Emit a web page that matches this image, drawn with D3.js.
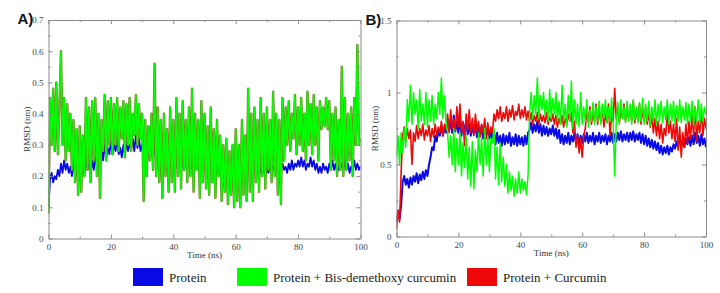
<!DOCTYPE html>
<html lang="en">
  <head>
    <meta charset="utf-8">
    <title>RMSD</title>
    <script src="https://d3js.org/d3.v7.js"></script>
    <style>
      body { margin: 0; background: #fff; }
    </style>
  </head>

  <body>

  <script>

// RMSD values, one every 0.5 ns (0 .. 100 ns)

  var proteinA = [
    0.10, 0.19, 0.21, 0.18, 0.20, 0.19, 0.22, 0.20, 0.24, 0.21,
    0.25, 0.22, 0.24, 0.21, 0.23, 0.20, 0.24, 0.21, 0.22, 0.19,
    0.23, 0.20, 0.25, 0.21, 0.26, 0.22, 0.24, 0.21, 0.25, 0.22,
    0.26, 0.23, 0.28, 0.24, 0.29, 0.25, 0.30, 0.26, 0.29, 0.27,
    0.31, 0.27, 0.30, 0.28, 0.32, 0.27, 0.29, 0.26, 0.30, 0.27,
    0.31, 0.28, 0.30, 0.29, 0.32, 0.28, 0.33, 0.29, 0.32, 0.28,
    0.30, 0.27, 0.29, 0.26, 0.30, 0.27, 0.29, 0.26, 0.31, 0.25,
    0.28, 0.25, 0.27, 0.24, 0.26, 0.23, 0.27, 0.24, 0.26, 0.23,
    0.26, 0.23, 0.25, 0.22, 0.25, 0.23, 0.24, 0.22, 0.25, 0.23,
    0.25, 0.22, 0.24, 0.22, 0.25, 0.23, 0.24, 0.22, 0.25, 0.22,
    0.24, 0.22, 0.25, 0.23, 0.24, 0.22, 0.25, 0.22, 0.24, 0.21,
    0.24, 0.21, 0.23, 0.21, 0.24, 0.22, 0.23, 0.21, 0.23, 0.20,
    0.23, 0.20, 0.22, 0.20, 0.23, 0.21, 0.22, 0.20, 0.23, 0.21,
    0.22, 0.20, 0.23, 0.21, 0.22, 0.20, 0.23, 0.21, 0.22, 0.20,
    0.23, 0.21, 0.24, 0.21, 0.23, 0.22, 0.24, 0.21, 0.23, 0.22,
    0.24, 0.22, 0.23, 0.21, 0.24, 0.22, 0.25, 0.22, 0.24, 0.23,
    0.25, 0.23, 0.26, 0.23, 0.25, 0.22, 0.24, 0.23, 0.26, 0.23,
    0.25, 0.22, 0.24, 0.21, 0.23, 0.21, 0.24, 0.22, 0.23, 0.21,
    0.24, 0.22, 0.25, 0.22, 0.24, 0.21, 0.23, 0.22, 0.24, 0.22,
    0.25, 0.22, 0.24, 0.21, 0.23, 0.22, 0.25, 0.22, 0.24, 0.22,
    0.23];

  var bisA = [
    0.08, 0.45, 0.30, 0.48, 0.28, 0.50, 0.27, 0.42, 0.60, 0.30,
    0.45, 0.25, 0.43, 0.28, 0.40, 0.22, 0.38, 0.18, 0.35, 0.14,
    0.36, 0.15, 0.33, 0.20, 0.45, 0.22, 0.42, 0.18, 0.44, 0.25,
    0.45, 0.20, 0.40, 0.13, 0.38, 0.28, 0.46, 0.25, 0.44, 0.30,
    0.45, 0.27, 0.43, 0.30, 0.45, 0.28, 0.42, 0.32, 0.44, 0.26,
    0.43, 0.30, 0.45, 0.28, 0.40, 0.33, 0.46, 0.30, 0.43, 0.32,
    0.40, 0.12, 0.38, 0.20, 0.36, 0.25, 0.40, 0.22, 0.56, 0.20,
    0.42, 0.18, 0.38, 0.13, 0.40, 0.20, 0.35, 0.15, 0.42, 0.18,
    0.38, 0.15, 0.45, 0.20, 0.40, 0.16, 0.44, 0.22, 0.38, 0.18,
    0.42, 0.20, 0.48, 0.15, 0.40, 0.22, 0.38, 0.13, 0.44, 0.18,
    0.40, 0.16, 0.36, 0.14, 0.42, 0.18, 0.35, 0.13, 0.38, 0.20,
    0.33, 0.12, 0.30, 0.15, 0.32, 0.11, 0.28, 0.14, 0.30, 0.10,
    0.35, 0.12, 0.30, 0.10, 0.38, 0.14, 0.33, 0.12, 0.48, 0.15,
    0.40, 0.12, 0.42, 0.18, 0.38, 0.15, 0.45, 0.20, 0.40, 0.16,
    0.42, 0.22, 0.38, 0.18, 0.47, 0.20, 0.40, 0.14, 0.38, 0.11,
    0.45, 0.25, 0.42, 0.30, 0.44, 0.28, 0.40, 0.32, 0.46, 0.27,
    0.42, 0.30, 0.45, 0.28, 0.40, 0.25, 0.47, 0.30, 0.43, 0.27,
    0.46, 0.30, 0.42, 0.25, 0.44, 0.35, 0.42, 0.36, 0.45, 0.35,
    0.44, 0.22, 0.40, 0.25, 0.42, 0.20, 0.38, 0.22, 0.55, 0.20,
    0.45, 0.22, 0.40, 0.25, 0.42, 0.20, 0.45, 0.30, 0.62, 0.30,
    0.32];

  var proteinB = [
    0.10, 0.18, 0.12, 0.22, 0.38, 0.42, 0.36, 0.40, 0.34, 0.41,
    0.36, 0.42, 0.38, 0.44, 0.37, 0.43, 0.39, 0.45, 0.40, 0.46,
    0.42, 0.50, 0.55, 0.62, 0.60, 0.70, 0.66, 0.74, 0.70, 0.77,
    0.70, 0.76, 0.72, 0.82, 0.74, 0.80, 0.72, 0.84, 0.73, 0.80,
    0.72, 0.82, 0.70, 0.79, 0.72, 0.80, 0.71, 0.78, 0.70, 0.77,
    0.71, 0.78, 0.69, 0.76, 0.70, 0.77, 0.68, 0.75, 0.69, 0.76,
    0.68, 0.74, 0.66, 0.73, 0.64, 0.72, 0.65, 0.70, 0.63, 0.71,
    0.64, 0.70, 0.65, 0.72, 0.63, 0.69, 0.64, 0.71, 0.63, 0.70,
    0.64, 0.69, 0.63, 0.70, 0.64, 0.72, 0.74, 0.79, 0.72, 0.78,
    0.73, 0.80, 0.72, 0.78, 0.70, 0.77, 0.71, 0.76, 0.70, 0.75,
    0.71, 0.77, 0.70, 0.75, 0.68, 0.74, 0.65, 0.71, 0.64, 0.70,
    0.65, 0.72, 0.64, 0.70, 0.66, 0.72, 0.65, 0.71, 0.64, 0.70,
    0.65, 0.71, 0.66, 0.72, 0.65, 0.70, 0.66, 0.72, 0.64, 0.70,
    0.66, 0.72, 0.65, 0.70, 0.66, 0.71, 0.64, 0.70, 0.66, 0.72,
    0.65, 0.71, 0.66, 0.72, 0.67, 0.73, 0.66, 0.71, 0.67, 0.72,
    0.66, 0.72, 0.67, 0.73, 0.66, 0.71, 0.67, 0.72, 0.65, 0.71,
    0.64, 0.70, 0.63, 0.68, 0.62, 0.67, 0.61, 0.66, 0.60, 0.65,
    0.58, 0.63, 0.57, 0.62, 0.58, 0.63, 0.57, 0.62, 0.59, 0.64,
    0.61, 0.66, 0.62, 0.68, 0.63, 0.67, 0.62, 0.68, 0.64, 0.69,
    0.63, 0.70, 0.64, 0.72, 0.65, 0.70, 0.63, 0.71, 0.64, 0.68,
    0.62];

  var bisB = [
    0.55, 0.70, 0.50, 0.72, 0.58, 0.75, 0.62, 0.95, 0.80, 1.05,
    0.78, 1.00, 0.85, 0.95, 0.75, 1.02, 0.80, 0.92, 0.78, 1.00,
    0.76, 0.95, 0.80, 0.98, 0.78, 0.92, 0.82, 1.00, 0.85, 1.10,
    0.82, 0.98, 0.80, 0.72, 0.55, 0.70, 0.50, 0.75, 0.45, 0.68,
    0.50, 0.72, 0.42, 0.65, 0.48, 0.70, 0.40, 0.62, 0.35, 0.66,
    0.33, 0.60, 0.45, 0.72, 0.50, 0.68, 0.42, 0.75, 0.50, 0.70,
    0.45, 0.68, 0.65, 0.75, 0.40, 0.62, 0.36, 0.65, 0.38, 0.55,
    0.35, 0.50, 0.30, 0.45, 0.32, 0.42, 0.28, 0.40, 0.30, 0.45,
    0.30, 0.40, 0.32, 0.38, 0.29, 0.42, 0.85, 1.00, 0.82, 0.98,
    0.85, 1.10, 0.82, 0.98, 0.88, 1.00, 0.84, 0.95, 0.80, 1.02,
    0.82, 0.96, 0.85, 1.00, 0.80, 0.94, 0.78, 1.05, 0.80, 0.92,
    0.76, 0.98, 0.80, 1.08, 0.75, 0.95, 0.78, 0.92, 0.76, 1.00,
    0.78, 0.90, 0.80, 0.95, 0.76, 0.88, 0.80, 0.93, 0.78, 0.90,
    0.80, 0.94, 0.78, 0.92, 0.82, 0.95, 0.79, 0.90, 0.80, 0.96,
    0.78, 0.42, 0.80, 0.93, 0.78, 0.95, 0.82, 0.90, 0.79, 0.94,
    0.80, 0.92, 0.78, 0.95, 0.81, 0.90, 0.79, 0.93, 0.80, 0.96,
    0.78, 0.92, 0.80, 0.94, 0.77, 0.90, 0.80, 0.95, 0.78, 0.92,
    0.80, 0.94, 0.79, 0.90, 0.81, 0.95, 0.78, 0.92, 0.80, 0.94,
    0.78, 0.91, 0.80, 0.95, 0.79, 0.90, 0.81, 0.93, 0.78, 0.92,
    0.80, 0.94, 0.77, 0.90, 0.80, 0.95, 0.78, 0.92, 0.80, 0.90,
    0.85];

  var curB = [
    0.05, 0.18, 0.10, 0.45, 0.70, 0.76, 0.66, 0.75, 0.68, 0.74,
    0.50, 0.72, 0.66, 0.77, 0.68, 0.75, 0.70, 0.78, 0.67, 0.74,
    0.70, 0.77, 0.66, 0.75, 0.69, 0.78, 0.70, 0.76, 0.72, 0.80,
    0.70, 0.78, 0.74, 0.85, 0.72, 0.88, 0.75, 0.82, 0.73, 0.90,
    0.76, 0.92, 0.72, 0.80, 0.63, 0.85, 0.74, 0.88, 0.72, 0.82,
    0.70, 0.85, 0.73, 0.80, 0.69, 0.78, 0.72, 0.82, 0.68, 0.79,
    0.70, 0.76, 0.72, 0.85, 0.80, 0.88, 0.82, 0.90, 0.80, 0.86,
    0.82, 0.90, 0.80, 0.88, 0.83, 0.91, 0.81, 0.87, 0.84, 0.92,
    0.82, 0.88, 0.83, 0.90, 0.81, 0.87, 0.80, 0.86, 0.78, 0.84,
    0.80, 0.86, 0.78, 0.85, 0.80, 0.84, 0.79, 0.86, 0.78, 0.83,
    0.80, 0.85, 0.78, 0.84, 0.76, 0.82, 0.78, 0.84, 0.76, 0.82,
    0.78, 0.85, 0.80, 0.86, 0.72, 0.80, 0.62, 0.70, 0.58, 0.68,
    0.55, 0.70, 0.75, 0.88, 0.80, 0.90, 0.78, 0.86, 0.80, 0.92,
    0.78, 0.88, 0.80, 0.90, 0.76, 0.85, 0.79, 0.92, 0.70, 0.86,
    0.80, 1.03, 0.82, 0.90, 0.79, 0.88, 0.82, 0.92, 0.80, 0.89,
    0.82, 0.90, 0.80, 0.94, 0.79, 0.88, 0.81, 0.92, 0.78, 0.88,
    0.80, 0.90, 0.78, 0.86, 0.76, 0.84, 0.72, 0.82, 0.70, 0.80,
    0.68, 0.78, 0.65, 0.75, 0.70, 0.86, 0.72, 0.80, 0.68, 0.78,
    0.66, 0.82, 0.60, 0.76, 0.55, 0.72, 0.62, 0.78, 0.65, 0.80,
    0.68, 0.85, 0.70, 0.90, 0.66, 0.80, 0.72, 0.88, 0.70, 0.82,
    0.75];

  var xTicks = [0, 20, 40, 60, 80, 100];
  var yTicksA = [0, 0.1, 0.2, 0.3, 0.4, 0.5, 0.6, 0.7];
  var yTicksB = [0, 0.5, 1, 1.5];
  var legendNames = ["Protein", "Protein + Bis-demethoxy curcumin", "Protein + Curcumin"];
  var legendColors = ["#0a0ae6", "#00ff00", "#ee0808"];

  var serif = "'Liberation Serif', 'Times New Roman', 'DejaVu Serif', serif";
  var time = proteinA.map((d, i) => i * 0.5);

  var w = 720;
  var h = 293;

  var svg = d3.select("body")
    .append("svg")
      .attr("width", w)
      .attr("height", h);

  function panel(id, box, yMax, yTicks, yMinor, yFmt, series) {
    var x = d3.scaleLinear().domain([0, 100]).range([box.left, box.right]);
    var y = d3.scaleLinear().domain([0, yMax]).range([box.bottom, box.top]);
    var g = svg.append("g");

    g.append("clipPath").attr("id", "clip" + id)
      .append("rect")
        .attr("x", box.left).attr("y", box.top)
        .attr("width", box.right - box.left).attr("height", box.bottom - box.top);

    var line = d3.line().x((d, i) => x(time[i])).y(d => y(d));
    var lines = g.append("g").attr("clip-path", "url(#clip" + id + ")");
    series.forEach(s => {
      lines.append("path")
        .attr("d", line(s.values))
        .attr("fill", "none")
        .attr("stroke", s.color)
        .attr("stroke-width", s.width)
        .attr("stroke-linejoin", "round");
    });

    // frame with inward ticks on all four sides
    var xMinor = d3.range(10, 100, 20);
    var axes = [
      d3.axisBottom(x).tickValues(xTicks).tickFormat(d3.format("d")),
      d3.axisTop(x).tickValues(xTicks).tickFormat(""),
      d3.axisLeft(y).tickValues(yTicks).tickFormat(yFmt),
      d3.axisRight(y).tickValues(yTicks).tickFormat("")
    ];
    var minors = [
      d3.axisBottom(x).tickValues(xMinor).tickFormat(""),
      d3.axisTop(x).tickValues(xMinor).tickFormat(""),
      d3.axisLeft(y).tickValues(yMinor).tickFormat(""),
      d3.axisRight(y).tickValues(yMinor).tickFormat("")
    ];
    var pos = [
      "translate(0," + box.bottom + ")", "translate(0," + box.top + ")",
      "translate(" + box.left + ",0)", "translate(" + box.right + ",0)"
    ];
    axes.forEach((a, i) => {
      var ga = g.append("g").attr("transform", pos[i])
        .call(a.tickSizeInner(-4).tickSizeOuter(0).tickPadding(5));
      ga.attr("font-family", serif);
      ga.select(".domain").attr("stroke", "#8a8a8a");
      ga.selectAll(".tick line").attr("stroke", "#8a8a8a");
      ga.selectAll("text").attr("font-size", 9).attr("fill", "#444");
      g.append("g").attr("transform", pos[i])
        .call(minors[i].tickSizeInner(-2).tickSizeOuter(0))
        .call(s => s.select(".domain").remove())
        .selectAll(".tick line").attr("stroke", "#8a8a8a");
    });

    g.append("text")
      .attr("x", (box.left + box.right) / 2)
      .attr("y", box.bottom + 19)
      .attr("text-anchor", "middle")
      .attr("font-family", serif)
      .attr("font-size", 9)
      .attr("fill", "#333")
      .text("Time (ns)");

    g.append("text")
      .attr("transform", "translate(" + (box.left - 19) + "," + ((box.top + box.bottom) / 2) + ") rotate(-90)")
      .attr("text-anchor", "middle")
      .attr("font-family", serif)
      .attr("font-size", 9)
      .attr("fill", "#333")
      .text("RMSD (nm)");

    g.append("text")
      .attr("x", box.left - 31)
      .attr("y", box.top + 4)
      .attr("font-size", 15)
      .attr("font-weight", "bold")
      .attr("font-family", "'Liberation Sans', Arial, sans-serif")
      .attr("fill", "#111")
      .text(id + ")");
  }

  panel("A", {left: 48.5, right: 360.5, top: 20, bottom: 238.5}, 0.7, yTicksA,
    d3.range(0.05, 0.7, 0.1), d => d === 0 ? "0" : d3.format(".1f")(d),
    [
      {values: proteinA, color: legendColors[0], width: 1.8},
      {values: bisA, color: "#8a6a2a", width: 2.4},
      {values: bisA, color: legendColors[1], width: 1.6}
    ]);

  panel("B", {left: 396.5, right: 706, top: 20.5, bottom: 236.5}, 1.5, yTicksB,
    [0.25, 0.75, 1.25], d => d === 0 || d === 1 ? d3.format("d")(d) : d3.format(".1f")(d),
    [
      {values: proteinB, color: legendColors[0], width: 2},
      {values: curB, color: legendColors[2], width: 1.6},
      {values: bisB, color: legendColors[1], width: 1.5}
    ]);

  // legend
  var legendX = [133, 237, 467];
  var legend = svg.append("g");
  legendNames.forEach((name, i) => {
    legend.append("rect")
      .attr("x", legendX[i]).attr("y", 268)
      .attr("width", 30).attr("height", 18)
      .attr("fill", legendColors[i]);
    legend.append("text")
      .attr("x", legendX[i] + 36).attr("y", 282)
      .attr("font-family", serif)
      .attr("font-size", 13)
      .attr("fill", "#222")
      .text(name);
  });

    </script>

  </body>

</html>
